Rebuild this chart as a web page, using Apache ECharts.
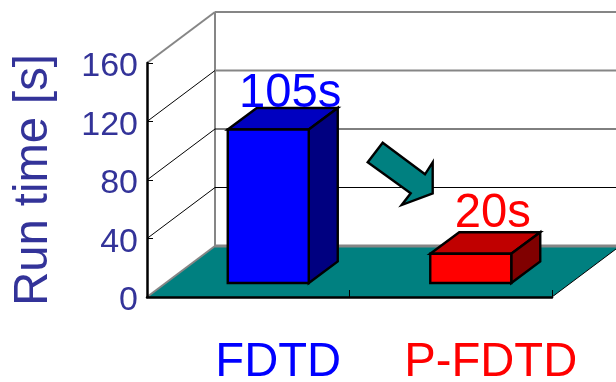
<!DOCTYPE html>
<html>
<head>
<meta charset="utf-8">
<style>html,body{margin:0;padding:0;background:#fff}#chart{width:616px;height:382px}</style>
<script src="https://cdn.jsdelivr.net/npm/echarts@6/dist/echarts.min.js"></script>
</head>
<body>
<div id="chart"></div>
<script>
// Run time of the two solvers
const categories = ['FDTD', 'P-FDTD'];
const runTimes = [105, 20];
const yTicks = [0, 40, 80, 120, 160];
const barLabels = ['105s', '20s'];

// Pseudo-3D projection: screen shift of the back wall and of the boxes
const WALL_DX = 68, WALL_DY = -51;
const BAR_SHIFT_DX = 20, BAR_SHIFT_DY = -14;
const BAR_DEPTH_DX = 29, BAR_DEPTH_DY = -21.5;
const BAR_RATIO = 0.4;

const WALL_GREY = '#868686';
const FONT = '"Liberation Sans", Arial, sans-serif';
const BIG_TEXT = 47.2;
const faceColors = [
  { front: '#0000ff', top: '#0000c0', side: '#000080', text: '#0000ff' },
  { front: '#ff0000', top: '#c00000', side: '#800000', text: '#ff0000' }
];
// Text placement relative to each box
const VALUE_LABEL_DX = 22;
const VALUE_LABEL_LIFT = [1, 6];
const NAME_LABEL_DX = [30, 40];
const NAME_LABEL_Y = 376;

const line = (x1, y1, x2, y2, stroke, width) => ({
  type: 'line',
  shape: { x1, y1, x2, y2 },
  style: { stroke, lineWidth: width, fill: null }
});

// One grid level: diagonal along the side wall plus the line on the back wall
function renderGridLevel(params, api) {
  const value = api.value(0);
  const rect = params.coordSys;
  const y = api.coord([0, value])[1];
  const x0 = rect.x, xb = x0 + WALL_DX, yb = y + WALL_DY;
  const xEnd = rect.x + rect.width + WALL_DX;
  const grey = value >= 120;
  const children = [];
  if (value === 0) {
    children.push({
      type: 'polygon',
      shape: { points: [[x0, y], [xb, yb], [xEnd, yb], [rect.x + rect.width, y]] },
      style: { fill: '#008080', stroke: null }
    });
    children.push(line(x0, y, xb, yb, WALL_GREY, 2));
    children.push(line(xb, yb, xEnd, yb, WALL_GREY, 3));
    children.push(line(rect.x + rect.width, y, xEnd, yb, '#000', 1));
    children.push(line(xb, yb, xb, rect.y + WALL_DY, WALL_GREY, 2));
  } else {
    children.push(line(x0, y, xb, yb, value === 160 ? WALL_GREY : '#000', value === 160 ? 2 : 1));
    children.push(line(xb, yb, xEnd, yb, grey ? WALL_GREY : '#000', grey ? 2 : 1));
  }
  return { type: 'group', children };
}

// A box with front, top and side faces, its value label and its category name
function renderBox(params, api) {
  const idx = api.value(0);
  const base = api.coord([idx, 0]);
  const peak = api.coord([idx, api.value(1)]);
  const width = api.size([1, 0])[0] * BAR_RATIO;
  const colors = faceColors[idx];
  const xl = base[0] - width / 2 + BAR_SHIFT_DX;
  const xr = xl + width;
  const yb = base[1] + BAR_SHIFT_DY;
  const yt = peak[1] + BAR_SHIFT_DY;
  const dx = BAR_DEPTH_DX, dy = BAR_DEPTH_DY;
  const face = (points, fill) => ({
    type: 'polygon',
    shape: { points },
    style: { fill, stroke: '#000', lineWidth: 2.4, lineJoin: 'miter' }
  });
  const label = (text, x, y, fill) => ({
    type: 'text',
    x, y,
    style: { text, fill, font: BIG_TEXT + 'px ' + FONT, align: 'center', verticalAlign: 'bottom' }
  });
  return {
    type: 'group',
    children: [
      face([[xl, yt], [xl + dx, yt + dy], [xr + dx, yt + dy], [xr, yt]], colors.top),
      face([[xr, yt], [xr + dx, yt + dy], [xr + dx, yb + dy], [xr, yb]], colors.side),
      face([[xl, yb], [xl, yt], [xr, yt], [xr, yb]], colors.front),
      label(barLabels[idx], (xl + xr) / 2 + VALUE_LABEL_DX,
        yt + dy - VALUE_LABEL_LIFT[idx] + BIG_TEXT * 0.23, colors.text),
      label(categories[idx], base[0] + NAME_LABEL_DX[idx], NAME_LABEL_Y + BIG_TEXT * 0.23, colors.text)
    ]
  };
}

const chart = echarts.init(document.getElementById('chart'), null, { renderer: 'canvas' });
chart.setOption({
  animation: false,
  backgroundColor: '#fff',
  grid: { left: 147, top: 63, width: 405, height: 234, containLabel: false, outerBoundsMode: 'none' },
  xAxis: {
    type: 'category',
    data: categories,
    z: 6,
    axisLine: { show: true, lineStyle: { color: '#000', width: 2.5 } },
    axisTick: { show: true, inside: true, length: 7, lineStyle: { color: '#000', width: 1 } },
    axisLabel: { show: false }
  },
  yAxis: {
    type: 'value',
    min: 0,
    max: 160,
    interval: 40,
    z: 6,
    name: 'Run time [s]',
    nameLocation: 'middle',
    nameRotate: 90,
    nameGap: 90,
    nameTextStyle: { color: '#333399', fontSize: BIG_TEXT, fontFamily: FONT },
    axisLine: { show: true, lineStyle: { color: '#000', width: 2.5 } },
    axisTick: { show: true, inside: true, length: 6, lineStyle: { color: '#000', width: 1 } },
    axisLabel: {
      margin: 9,
      formatter: v => `{t|${v}}`,
      // Extra room above the digits sits them a little below the tick
      rich: { t: { color: '#333399', fontSize: 34, fontFamily: FONT, padding: [8, 0, 0, 0] } }
    },
    splitLine: { show: false }
  },
  series: [
    {
      type: 'custom',
      coordinateSystem: 'cartesian2d',
      z: 1,
      silent: true,
      clip: false,
      renderItem: renderGridLevel,
      encode: { y: 0 },
      data: yTicks.map(v => [v])
    },
    {
      type: 'custom',
      coordinateSystem: 'cartesian2d',
      z: 3,
      silent: true,
      clip: false,
      renderItem: renderBox,
      encode: { x: 0, y: 1 },
      data: runTimes.map((v, i) => [i, v])
    }
  ],
  graphic: [{
    // Arrow from the slower solver to the faster one
    type: 'polygon',
    z: 10,
    shape: {
      points: [[382.7, 142.7], [425, 174.3], [432.7, 162.3], [432.7, 193.3],
               [401.7, 205], [410.7, 193.3], [367.7, 162.3]]
    },
    style: { fill: '#008080', stroke: '#000', lineWidth: 2.4 }
  }]
});
</script>
</body>
</html>
